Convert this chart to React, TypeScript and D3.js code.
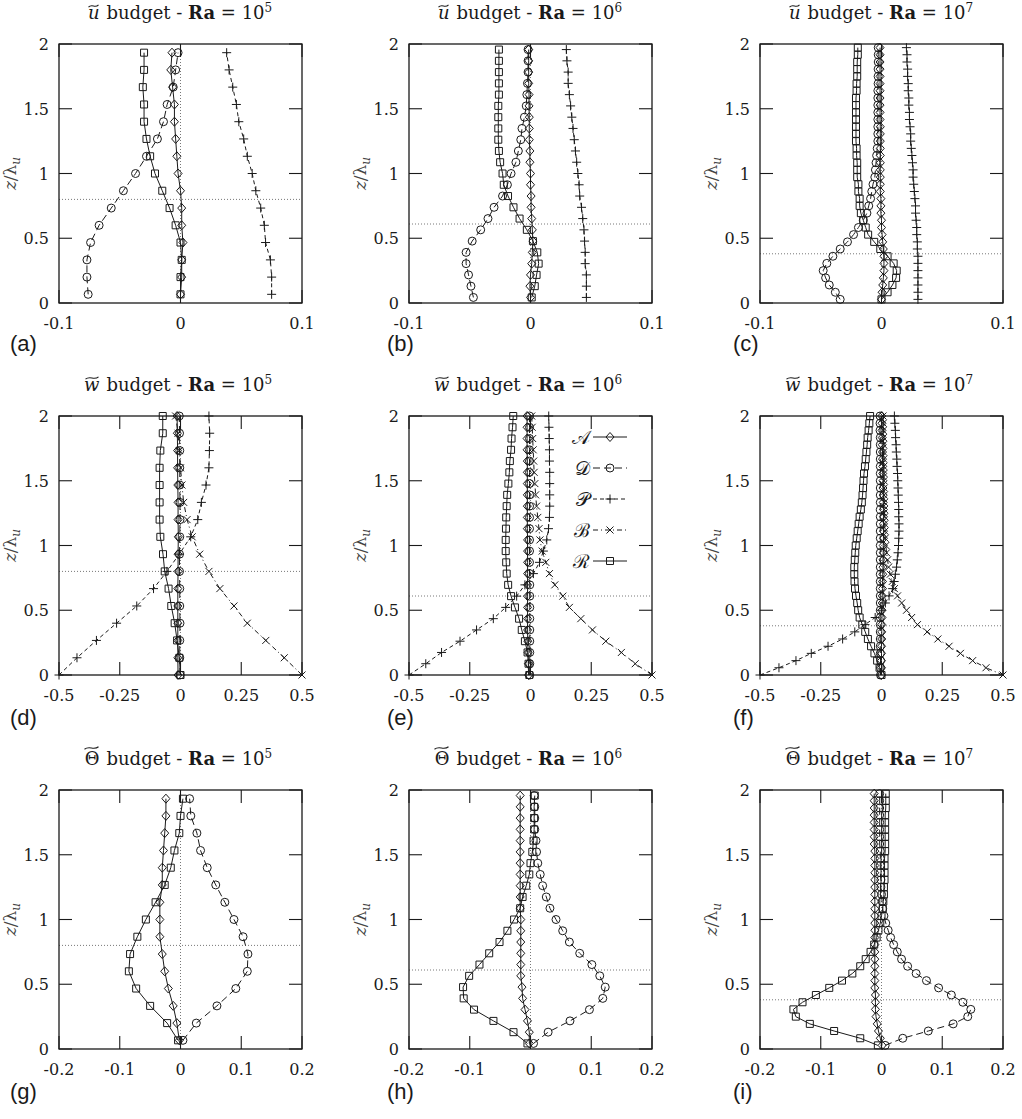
import React from "react";
import * as d3 from "d3";

// vertical positions z/lambda_u : cell centres (C) and faces (F) for each Ra
const zC5 = [0.067, 0.2, 0.333, 0.467, 0.6, 0.733, 0.867, 1.0, 1.133, 1.267, 1.4, 1.533, 1.667, 1.8, 1.933];
const zF5 = [0, 0.133, 0.267, 0.4, 0.533, 0.667, 0.8, 0.933, 1.067, 1.2, 1.333, 1.467, 1.6, 1.733, 1.867, 2.0];
const zC6 = [0.043, 0.13, 0.217, 0.304, 0.391, 0.478,
  0.565, 0.652, 0.739, 0.826, 0.913, 1.0,
  1.087, 1.174, 1.261, 1.348, 1.435, 1.522,
  1.609, 1.696, 1.783, 1.87, 1.957];
const zF6 = [0, 0.087, 0.174, 0.261, 0.348, 0.435,
  0.522, 0.609, 0.696, 0.783, 0.87, 0.957,
  1.043, 1.13, 1.217, 1.304, 1.391, 1.478,
  1.565, 1.652, 1.739, 1.826, 1.913, 2.0];
const zC7 = [0.028, 0.083, 0.139, 0.194, 0.25, 0.306,
  0.361, 0.417, 0.472, 0.528, 0.583, 0.639,
  0.694, 0.75, 0.806, 0.861, 0.917, 0.972,
  1.028, 1.083, 1.139, 1.194, 1.25, 1.306,
  1.361, 1.417, 1.472, 1.528, 1.583, 1.639,
  1.694, 1.75, 1.806, 1.861, 1.917, 1.972];
const zF7 = [0, 0.056, 0.111, 0.167, 0.222, 0.278,
  0.333, 0.389, 0.444, 0.5, 0.556, 0.611,
  0.667, 0.722, 0.778, 0.833, 0.889, 0.944,
  1.0, 1.056, 1.111, 1.167, 1.222, 1.278,
  1.333, 1.389, 1.444, 1.5, 1.556, 1.611,
  1.667, 1.722, 1.778, 1.833, 1.889, 1.944,
  2.0];

// u budget
const uA5 = [0, 0.001, 0.001, 0.002, 0.001, 0.001, 0, -0.002, -0.003, -0.004, -0.005, -0.005, -0.0065, -0.008, -0.007];
const uD5 = [-0.076, -0.077, -0.077, -0.074, -0.067, -0.057, -0.047, -0.037, -0.028, -0.019, -0.014, -0.011, -0.006, -0.004, -0.002];
const uP5 = [0.075, 0.075, 0.074, 0.07, 0.069, 0.066, 0.062, 0.059, 0.055, 0.052, 0.048, 0.046, 0.043, 0.04, 0.038];
const uR5 = [0, 0, 0.001, 0, -0.004, -0.009, -0.015, -0.021, -0.025, -0.028, -0.03, -0.03, -0.031, -0.03, -0.03];

const uA6 = [0, -0.0005, 0, 0.001, 0.0015, 0.002,
  0.0015, 0.001, 0.0005, 0.0005, 0, 0,
  -0.0005, -0.0005, -0.001, -0.001, -0.001, -0.0012,
  -0.0012, -0.0015, -0.0015, -0.0015, -0.0015];
const uD6 = [-0.047, -0.049, -0.051, -0.053, -0.053, -0.048,
  -0.041, -0.035, -0.03, -0.023, -0.019, -0.016,
  -0.012, -0.01, -0.008, -0.007, -0.005, -0.0035,
  -0.003, -0.0025, -0.002, -0.002, -0.002];
const uP6 = [0.046, 0.046, 0.046, 0.045, 0.045, 0.0445,
  0.044, 0.043, 0.042, 0.0405, 0.04, 0.039,
  0.038, 0.037, 0.036, 0.035, 0.034, 0.033,
  0.032, 0.031, 0.031, 0.03, 0.0295];
const uR6 = [0.001, 0.0035, 0.005, 0.0067, 0.0056, 0.002,
  -0.003, -0.009, -0.014, -0.0185, -0.022, -0.023,
  -0.025, -0.026, -0.0265, -0.0265, -0.0265, -0.0265,
  -0.026, -0.026, -0.026, -0.026, -0.026];

const uA7 = [0, 0.0005, 0.001, 0.0015, 0.002, 0.002,
  0.002, 0.0015, 0.001, 0.0005, 0, 0,
  -0.0005, -0.0005, -0.0005, -0.001, -0.001, -0.001,
  -0.001, -0.001, -0.001, -0.001, -0.001, -0.001,
  -0.001, -0.0012, -0.0012, -0.0012, -0.0012, -0.0012,
  -0.0012, -0.0012, -0.0012, -0.0012, -0.0012, -0.0012];
const uD7 = [-0.034, -0.038, -0.043, -0.046, -0.048, -0.045,
  -0.04, -0.034, -0.028, -0.023, -0.019, -0.015,
  -0.012, -0.0105, -0.009, -0.008, -0.007, -0.0055,
  -0.005, -0.0045, -0.004, -0.0035, -0.003, -0.003,
  -0.003, -0.003, -0.003, -0.003, -0.003, -0.003,
  -0.0028, -0.0028, -0.0028, -0.0027, -0.0027, -0.0027];
const uP7 = [0.03, 0.03, 0.03, 0.03, 0.03, 0.03,
  0.03, 0.0295, 0.0295, 0.029, 0.029, 0.0285,
  0.028, 0.028, 0.0275, 0.027, 0.0265, 0.026,
  0.026, 0.0255, 0.025, 0.0245, 0.024, 0.024,
  0.0235, 0.023, 0.023, 0.0225, 0.0225, 0.022,
  0.022, 0.0215, 0.0215, 0.021, 0.021, 0.0205];
const uR7 = [0, 0.005, 0.009, 0.012, 0.0125, 0.01,
  0.005, -0.001, -0.006, -0.011, -0.013, -0.015,
  -0.017, -0.018, -0.018, -0.019, -0.019, -0.02,
  -0.02, -0.02, -0.0205, -0.0205, -0.021, -0.021,
  -0.021, -0.021, -0.021, -0.021, -0.021, -0.0205,
  -0.0205, -0.02, -0.02, -0.02, -0.0195, -0.0195];

// w budget
const wA5 = [-0.01, -0.011, -0.011, -0.011, -0.011, -0.011, -0.01, -0.01, -0.009, -0.01, -0.01, -0.011, -0.012, -0.012, -0.013, -0.014];
const wD5 = [-0.002, -0.003, -0.003, -0.002, -0.003, -0.003, -0.004, -0.004, -0.003, -0.002, -0.002, -0.003, -0.003, -0.003, -0.004, -0.005];
const wP5 = [-0.5, -0.426, -0.346, -0.263, -0.18, -0.111, -0.056, -0.005, 0.042, 0.071, 0.086, 0.105, 0.117, 0.119, 0.12, 0.117];
const wB5 = [0.5, 0.427, 0.351, 0.275, 0.22, 0.162, 0.117, 0.079, 0.048, 0.027, 0.013, 0.006, 0, -0.005, -0.01, -0.02];
const wR5 = [0, -0.005, -0.014, -0.024, -0.038, -0.049, -0.065, -0.072, -0.083, -0.086, -0.086, -0.086, -0.086, -0.083, -0.073, -0.073];

const wA6 = [-0.008, -0.009, -0.01, -0.011, -0.012, -0.012,
  -0.012, -0.012, -0.012, -0.012, -0.012, -0.012,
  -0.012, -0.013, -0.013, -0.013, -0.013, -0.013,
  -0.013, -0.013, -0.014, -0.014, -0.014, -0.014];
const wD6 = [-0.003, -0.003, -0.003, -0.003, -0.003, -0.003,
  -0.003, -0.003, -0.003, -0.004, -0.004, -0.004,
  -0.004, -0.004, -0.004, -0.004, -0.004, -0.004,
  -0.004, -0.004, -0.004, -0.004, -0.004, -0.004];
const wP6 = [-0.5, -0.431, -0.366, -0.29, -0.222, -0.153,
  -0.102, -0.057, -0.023, 0.012, 0.037, 0.053,
  0.067, 0.074, 0.078, 0.079, 0.079, 0.079,
  0.079, 0.078, 0.078, 0.077, 0.076, 0.075];
const wB6 = [0.5, 0.431, 0.374, 0.31, 0.255, 0.207,
  0.16, 0.133, 0.1, 0.078, 0.063, 0.048,
  0.039, 0.035, 0.03, 0.025, 0.021, 0.018,
  0.015, 0.013, 0.011, 0.009, 0.007, 0.005];
const wR6 = [-0.005, -0.008, -0.012, -0.023, -0.036, -0.047,
  -0.064, -0.08, -0.092, -0.098, -0.1, -0.102,
  -0.102, -0.101, -0.1, -0.098, -0.096, -0.091,
  -0.087, -0.085, -0.08, -0.078, -0.074, -0.071];

const wA7 = [0, 0, 0, 0, 0, 0.001,
  0.001, 0.001, 0.002, 0.002, 0.003, 0.003,
  0.004, 0.004, 0.005, 0.006, 0.006, 0.007,
  0.007, 0.008, 0.008, 0.008, 0.008, 0.008,
  0.007, 0.007, 0.006, 0.006, 0.005, 0.005,
  0.004, 0.004, 0.003, 0.003, 0.002, 0.002,
  0.001];
const wD7 = [-0.004, -0.004, -0.004, -0.005, -0.005, -0.005,
  -0.005, -0.005, -0.005, -0.005, -0.005, -0.005,
  -0.005, -0.005, -0.005, -0.005, -0.005, -0.005,
  -0.005, -0.005, -0.005, -0.005, -0.005, -0.005,
  -0.005, -0.005, -0.005, -0.005, -0.005, -0.005,
  -0.005, -0.005, -0.005, -0.005, -0.006, -0.006,
  -0.006];
const wP7 = [-0.5, -0.422, -0.352, -0.289, -0.22, -0.16,
  -0.11, -0.068, -0.026, 0, 0.016, 0.031,
  0.046, 0.052, 0.057, 0.062, 0.065, 0.068,
  0.07, 0.071, 0.072, 0.072, 0.071, 0.071,
  0.07, 0.069, 0.068, 0.067, 0.066, 0.064,
  0.063, 0.061, 0.06, 0.058, 0.057, 0.055,
  0.053];
const wB7 = [0.5, 0.43, 0.375, 0.325, 0.278, 0.232,
  0.188, 0.148, 0.124, 0.103, 0.083, 0.066,
  0.053, 0.044, 0.036, 0.029, 0.025, 0.021,
  0.018, 0.015, 0.014, 0.013, 0.013, 0.012,
  0.012, 0.011, 0.011, 0.01, 0.01, 0.009,
  0.009, 0.008, 0.008, 0.008, 0.007, 0.007,
  0.006];
const wR7 = [0, -0.008, -0.018, -0.029, -0.043, -0.056,
  -0.067, -0.079, -0.09, -0.096, -0.1, -0.105,
  -0.109, -0.111, -0.112, -0.112, -0.11, -0.108,
  -0.106, -0.102, -0.098, -0.094, -0.09, -0.085,
  -0.081, -0.078, -0.076, -0.074, -0.072, -0.068,
  -0.065, -0.062, -0.059, -0.057, -0.053, -0.05,
  -0.047];

// Theta budget
const tA5 = [-0.002, -0.006, -0.012, -0.02, -0.026, -0.03, -0.034, -0.034, -0.034, -0.03, -0.03, -0.028, -0.026, -0.024, -0.024];
const tD5 = [0.004, 0.026, 0.06, 0.091, 0.11, 0.111, 0.103, 0.088, 0.073, 0.058, 0.044, 0.033, 0.027, 0.017, 0.015];
const tR5 = [-0.004, -0.022, -0.05, -0.073, -0.085, -0.083, -0.071, -0.057, -0.041, -0.026, -0.016, -0.01, -0.002, 0, 0.004];

const tA6 = [-0.002, -0.002, -0.005, -0.009, -0.013, -0.014,
  -0.016, -0.016, -0.016, -0.016, -0.016, -0.016,
  -0.017, -0.017, -0.017, -0.017, -0.017, -0.017,
  -0.017, -0.017, -0.017, -0.017, -0.017];
const tD6 = [0.005, 0.029, 0.065, 0.097, 0.119, 0.123,
  0.114, 0.101, 0.081, 0.064, 0.053, 0.042,
  0.032, 0.026, 0.02, 0.016, 0.012, 0.01,
  0.009, 0.007, 0.007, 0.007, 0.006];
const tR6 = [-0.005, -0.028, -0.061, -0.093, -0.11, -0.111,
  -0.101, -0.084, -0.068, -0.051, -0.038, -0.027,
  -0.017, -0.013, -0.007, -0.002, 0, 0.003,
  0.005, 0.006, 0.006, 0.006, 0.007];

const tA7 = [0.001, -0.002, -0.005, -0.007, -0.009, -0.01,
  -0.01, -0.01, -0.011, -0.011, -0.011, -0.011,
  -0.011, -0.011, -0.011, -0.011, -0.011, -0.011,
  -0.011, -0.011, -0.011, -0.011, -0.011, -0.011,
  -0.011, -0.011, -0.011, -0.011, -0.012, -0.012,
  -0.012, -0.012, -0.012, -0.012, -0.012, -0.012];
const tD7 = [0.006, 0.035, 0.077, 0.118, 0.142, 0.147,
  0.134, 0.115, 0.094, 0.074, 0.057, 0.043,
  0.033, 0.026, 0.02, 0.015, 0.011, 0.007,
  0.004, 0.002, 0.001, 0, -0.001, -0.001,
  -0.002, -0.002, -0.002, -0.002, -0.003, -0.003,
  -0.003, -0.003, -0.003, -0.003, -0.003, -0.003];
const tR7 = [-0.006, -0.035, -0.078, -0.118, -0.141, -0.145,
  -0.13, -0.108, -0.086, -0.065, -0.048, -0.035,
  -0.026, -0.018, -0.012, -0.008, -0.005, -0.002,
  0, 0.002, 0.003, 0.004, 0.004, 0.005,
  0.005, 0.005, 0.005, 0.006, 0.006, 0.006,
  0.006, 0.006, 0.006, 0.007, 0.007, 0.007];

// axes / labels
const budgetNames = ["u", "w", "Θ"];
const raExponents = ["5", "6", "7"];
const panelLetters = [["a", "b", "c"], ["d", "e", "f"], ["g", "h", "i"]];
const xDomains = [[-0.1, 0.1], [-0.5, 0.5], [-0.2, 0.2]];
const xTicks = [[-0.1, 0, 0.1], [-0.5, -0.25, 0, 0.25, 0.5], [-0.2, -0.1, 0, 0.1, 0.2]];
const yTicks = [0, 0.5, 1, 1.5, 2];
const refHeights = [0.8, 0.61, 0.38];
const legendKeys = ["A", "D", "P", "B", "R"];
const legendLabels = ["𝒜", "𝒟", "𝒫", "ℬ", "ℛ"];

const grid = [
  [
    [["A", uA5, zC5], ["D", uD5, zC5], ["P", uP5, zC5], ["R", uR5, zC5]],
    [["A", uA6, zC6], ["D", uD6, zC6], ["P", uP6, zC6], ["R", uR6, zC6]],
    [["A", uA7, zC7], ["D", uD7, zC7], ["P", uP7, zC7], ["R", uR7, zC7]],
  ],
  [
    [["A", wA5, zF5], ["D", wD5, zF5], ["P", wP5, zF5], ["B", wB5, zF5], ["R", wR5, zF5]],
    [["A", wA6, zF6], ["D", wD6, zF6], ["P", wP6, zF6], ["B", wB6, zF6], ["R", wR6, zF6]],
    [["A", wA7, zF7], ["D", wD7, zF7], ["P", wP7, zF7], ["B", wB7, zF7], ["R", wR7, zF7]],
  ],
  [
    [["A", tA5, zC5], ["D", tD5, zC5], ["R", tR5, zC5]],
    [["A", tA6, zC6], ["D", tD6, zC6], ["R", tR6, zC6]],
    [["A", tA7, zC7], ["D", tD7, zC7], ["R", tR7, zC7]],
  ],
];

const styles: any = {
  A: { dash: null, marker: "diamond" },
  D: { dash: "7,4", marker: "circle" },
  P: { dash: "4,3", marker: "plus" },
  B: { dash: "5,3,1,3", marker: "times" },
  R: { dash: null, marker: "square" },
};

const W = 1022, H = 1119;
const frameLeft = [59, 409, 760];
const frameTop = [44, 416, 790];
const FW = 243, FH = 259;
const serif = "DejaVu Serif, Liberation Serif, Times New Roman, serif";
const sans = "Liberation Sans, Arial, Helvetica, sans-serif";
const ink = "#1a1a1a";

function markerPath(type: string, cx: number, cy: number) {
  switch (type) {
    case "square": return `M${cx - 3.5},${cy - 3.5}h7v7h-7z`;
    case "circle": return `M${cx - 4},${cy}a4,4 0 1,0 8,0a4,4 0 1,0 -8,0`;
    case "diamond": return `M${cx},${cy - 4.5}L${cx + 4},${cy}L${cx},${cy + 4.5}L${cx - 4},${cy}Z`;
    case "plus": return `M${cx - 4.5},${cy}h9M${cx},${cy - 4.5}v9`;
    default: return `M${cx - 3.5},${cy - 3.5}l7,7M${cx - 3.5},${cy + 3.5}l7,-7`;
  }
}

function Title({ row, col, cx, base }: { row: number; col: number; cx: number; base: number }) {
  const start = cx - 74;           // where "budget" begins
  const charW = [10, 13, 14][row]; // width of the budgeted quantity glyph
  const tx = start - 8 - charW;    // tilde left end
  const ty = base - (row === 2 ? 17 : 13);
  return (
    <g fill={ink}>
      <text x={start - 7} y={base} textAnchor="end" fontFamily={serif} fontSize={18}
        fontStyle={row === 2 ? "normal" : "italic"}>{budgetNames[row]}</text>
      <path d={`M${tx},${ty + 1.2}C${tx + charW / 3},${ty - 2.6} ${tx + 2 * charW / 3},${ty + 2.6} ${tx + charW},${ty - 1.2}`}
        fill="none" stroke={ink} strokeWidth={1.1} />
      <text x={start} y={base} fontFamily={serif} fontSize={18}>
        {"budget - "}
        <tspan fontWeight="bold">Ra</tspan>
        {" = 10"}
        <tspan dy={-7} fontSize={12}>{raExponents[col]}</tspan>
      </text>
    </g>
  );
}

function Panel({ row, col }: { row: number; col: number }) {
  const left = frameLeft[col], top = frameTop[row];
  const x = d3.scaleLinear().domain(xDomains[row]).range([left, left + FW]);
  const y = d3.scaleLinear().domain([0, 2]).range([top + FH, top]);
  const series: any[] = grid[row][col];

  const line = d3.line<[number, number]>().x(d => x(d[0])).y(d => y(d[1]));

  return (
    <g>
      <Title row={row} col={col} cx={left + FW / 2} base={top - 25} />

      {/* y label */}
      <text transform={`translate(${left - 43},${top + FH / 2}) rotate(-90)`} textAnchor="middle"
        fontFamily={serif} fontSize={17} fill="#444">
        <tspan fontStyle="italic">z</tspan>/λ<tspan fontStyle="italic" fontSize={12} dy={4}>u</tspan>
      </text>

      {/* panel letter */}
      <text x={[10, 387, 733][col]} y={top + FH + [48, 50, 50][row]} fontFamily={sans} fontSize={22} fill={ink}>
        ({panelLetters[row][col]})
      </text>

      {/* dotted reference lines */}
      <line x1={x(0)} x2={x(0)} y1={top} y2={top + FH} stroke="#555" strokeWidth={0.8} strokeDasharray="1,2" />
      <line x1={left} x2={left + FW} y1={y(refHeights[col])} y2={y(refHeights[col])}
        stroke="#555" strokeWidth={0.8} strokeDasharray="1,2" />

      {/* data */}
      {series.map(([key, vals, zs]: any) => {
        const pts: [number, number][] = vals.map((v: number, i: number) => [v, zs[i]]);
        const st = styles[key];
        return (
          <g key={key}>
            <path d={line(pts) || ""} fill="none" stroke={ink} strokeWidth={1}
              strokeDasharray={st.dash || undefined} />
            <path d={pts.map(p => markerPath(st.marker, x(p[0]), y(p[1]))).join("")}
              fill="none" stroke={ink} strokeWidth={1} />
          </g>
        );
      })}

      {/* frame and ticks */}
      <rect x={left} y={top} width={FW} height={FH} fill="none" stroke={ink} strokeWidth={1.3} />
      {xTicks[row].map(t => (
        <g key={"x" + t}>
          <line x1={x(t)} x2={x(t)} y1={top + FH} y2={top + FH - 13} stroke={ink} strokeWidth={1.1} />
          <line x1={x(t)} x2={x(t)} y1={top} y2={top + 13} stroke={ink} strokeWidth={1.1} />
          <text x={x(t)} y={top + FH + 26} textAnchor="middle" fontFamily={serif} fontSize={16} fill={ink}>
            {String(t)}
          </text>
        </g>
      ))}
      {yTicks.map(t => (
        <g key={"y" + t}>
          <line x1={left} x2={left + 13} y1={y(t)} y2={y(t)} stroke={ink} strokeWidth={1.1} />
          <line x1={left + FW} x2={left + FW - 13} y1={y(t)} y2={y(t)} stroke={ink} strokeWidth={1.1} />
          <text x={left - 10} y={y(t) + 6} textAnchor="end" fontFamily={serif} fontSize={16} fill={ink}>
            {String(t)}
          </text>
        </g>
      ))}

      {/* legend */}
      {row === 1 && col === 1 && legendKeys.map((k, i) => {
        const ly = top + 21 + i * 31;
        const st = styles[k];
        return (
          <g key={"lg" + k}>
            <text x={left + 181} y={ly + 7} textAnchor="end" fontFamily={serif} fontSize={19} fill={ink}>
              {legendLabels[i]}
            </text>
            <line x1={left + 184} x2={left + 218} y1={ly} y2={ly} stroke={ink} strokeWidth={1}
              strokeDasharray={st.dash || undefined} />
            <path d={markerPath(st.marker, left + 201, ly)} fill="none" stroke={ink} strokeWidth={1} />
          </g>
        );
      })}
    </g>
  );
}

export default function App() {
  return (
    <svg width={W} height={H} style={{ position: "absolute", left: 0, top: 0, background: "#fff" }}>
      <rect width={W} height={H} fill="#fff" />
      {[0, 1, 2].map(r => [0, 1, 2].map(c => <Panel key={`${r}-${c}`} row={r} col={c} />))}
    </svg>
  );
}
